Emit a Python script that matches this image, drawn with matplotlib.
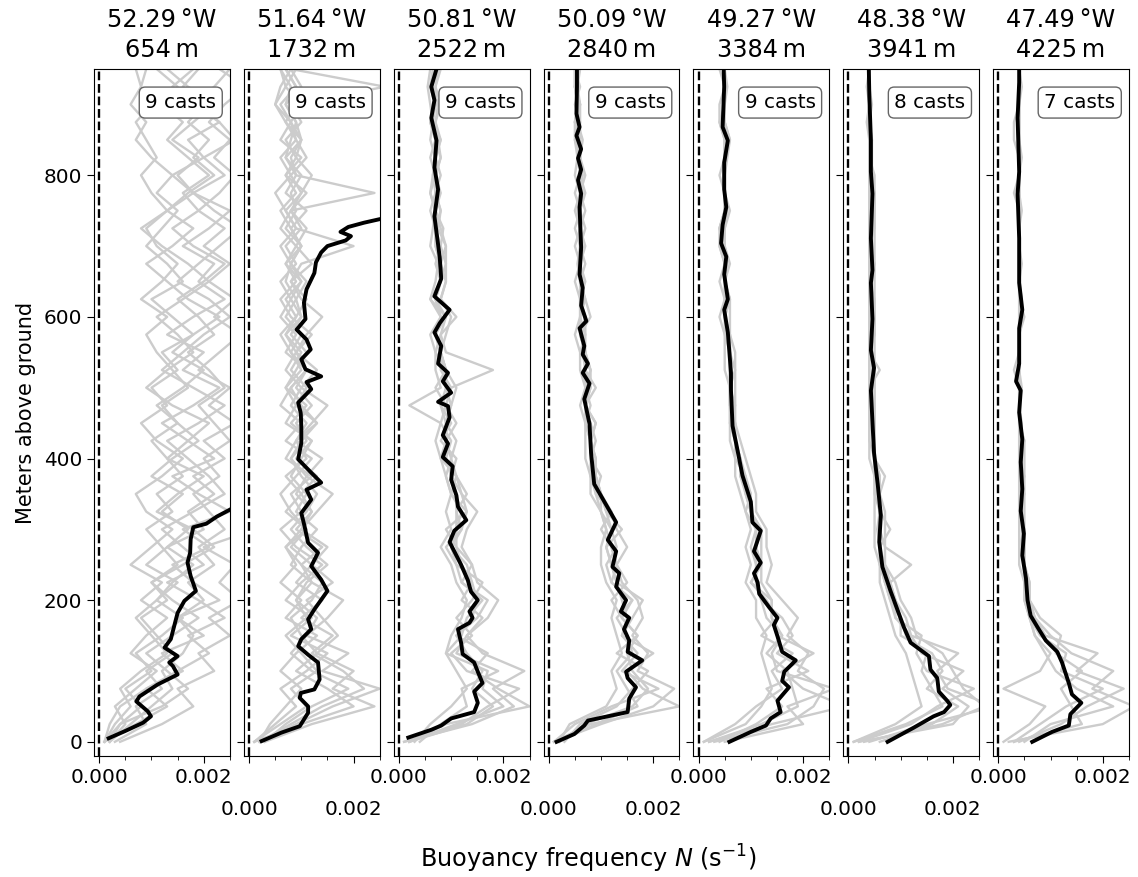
import numpy as np
import matplotlib.pyplot as plt
from matplotlib.ticker import MultipleLocator

plt.rcParams['font.size'] = 14.4

lons = [52.29, 51.64, 50.81, 50.09, 49.27, 48.38, 47.49]
depths = [654, 1732, 2522, 2840, 3384, 3941, 4225]
n_casts = [9, 9, 9, 9, 9, 8, 7]

# height above bottom of the individual cast samples (m)
z_cast = list(range(0, 951, 25))

# individual casts, N in units of 1e-4 s^-1
casts_1 = [
    [2, 6, 10, 14, 12, 16, 18, 15, 20, 17, 22, 19, 24,
     21, 18, 23, 20, 25, 22, 19, 24, 21, 17, 22, 19, 15,
     20, 24, 18, 14, 19, 16, 21, 17, 13, 16, 12, 15, 11],
    [3, 9, 7, 12, 9, 14, 11, 8, 13, 10, 15, 12, 9,
     14, 11, 16, 13, 10, 15, 12, 17, 14, 11, 9, 13, 8,
     12, 15, 11, 9, 13, 10, 8, 11, 9, 7, 10, 8, 9],
    [1, 4, 8, 5, 10, 7, 12, 16, 11, 14, 18, 13, 20,
     17, 22, 18, 24, 20, 26, 21, 25, 19, 23, 27, 22, 26,
     21, 25, 20, 24, 19, 23, 26, 22, 25, 21, 24, 28, 23],
    [2, 5, 3, 7, 11, 6, 9, 13, 8, 12, 6, 10, 14,
     9, 7, 12, 16, 11, 8, 13, 10, 15, 12, 18, 14, 10,
     16, 13, 9, 12, 15, 11, 14, 10, 7, 9, 6, 8, 7],
    [4, 12, 18, 15, 22, 19, 25, 21, 27, 23, 26, 20, 30,
     33, 35, 32, 38, 34, 40, 36, 33, 37, 35, 39, 34, 38,
     32, 36, 31, 35, 30, 34, 29, 33, 28, 32, 30, 27, 31],
    [1, 3, 6, 4, 8, 13, 10, 7, 11, 15, 9, 13, 17,
     12, 16, 10, 14, 19, 15, 11, 16, 20, 14, 18, 23, 17,
     13, 9, 14, 18, 13, 17, 22, 18, 21, 17, 20, 16, 19],
    [1, 7, 13, 9, 16, 12, 20, 15, 23, 18, 14, 21, 16,
     25, 19, 14, 22, 17, 12, 18, 23, 16, 20, 13, 18, 24,
     19, 22, 16, 21, 25, 18, 14, 20, 17, 23, 19, 14, 18],
    [2, 4, 12, 17, 13, 9, 14, 19, 14, 10, 16, 22, 18,
     11, 15, 20, 13, 17, 21, 14, 9, 13, 18, 15, 11, 16,
     21, 17, 12, 8, 13, 18, 15, 19, 14, 18, 22, 17, 13],
    [1, 2, 4, 9, 15, 21, 17, 24, 19, 13, 20, 16, 12,
     18, 24, 21, 17, 13, 19, 24, 18, 12, 16, 20, 25, 21,
     15, 19, 23, 27, 22, 18, 24, 20, 26, 23, 18, 22, 25],
]
casts_2 = [
    [2, 8, 14, 22, 18, 12, 16, 10, 14, 9, 12, 8, 11,
     7, 10, 13, 9, 12, 8, 11, 7, 10, 8, 6, 9, 7,
     10, 8, 6, 9, 7, 5, 8, 6, 9, 7, 5, 6, 8],
    [1, 5, 9, 6, 11, 15, 8, 12, 7, 10, 14, 9, 6,
     10, 8, 12, 7, 9, 11, 8, 10, 7, 9, 12, 8, 6,
     9, 7, 10, 8, 6, 9, 7, 10, 6, 8, 5, 7, 6],
    [3, 12, 24, 16, 20, 13, 17, 14, 11, 16, 12, 15, 10,
     13, 16, 11, 14, 9, 12, 15, 10, 13, 9, 11, 14, 10,
     8, 12, 9, 11, 8, 10, 12, 9, 7, 10, 8, 9, 7],
    [2, 4, 7, 10, 6, 9, 13, 7, 10, 6, 9, 7, 11,
     8, 6, 9, 12, 7, 10, 6, 8, 11, 7, 9, 6, 8,
     10, 7, 9, 6, 8, 11, 7, 9, 10, 7, 9, 26, 8],
    [1, 6, 11, 8, 13, 10, 7, 11, 9, 12, 8, 10, 13,
     9, 11, 8, 10, 12, 7, 9, 11, 8, 10, 7, 9, 11,
     8, 10, 20, 9, 7, 10, 8, 11, 9, 8, 10, 7, 9],
    [2, 9, 16, 25, 14, 19, 11, 15, 18, 12, 10, 14, 9,
     12, 10, 7, 11, 9, 13, 10, 8, 11, 9, 7, 10, 8,
     6, 9, 7, 10, 8, 24, 9, 7, 10, 8, 6, 9, 7],
    [1, 10, 20, 15, 9, 13, 10, 8, 12, 14, 10, 7, 10,
     12, 9, 11, 8, 10, 13, 9, 7, 9, 11, 8, 10, 9,
     7, 8, 10, 7, 9, 8, 10, 7, 8, 9, 7, 8, 6],
    [3, 7, 12, 19, 12, 8, 11, 13, 9, 11, 15, 11, 8,
     11, 13, 10, 8, 11, 9, 12, 9, 11, 8, 10, 7, 9,
     11, 8, 10, 8, 11, 7, 9, 8, 10, 9, 7, 10, 8],
]
casts_3 = [
    [1, 14, 22, 18, 24, 16, 13, 17, 19, 15, 14, 12, 13,
     15, 12, 11, 10, 11, 9, 10, 11, 9, 8, 9, 10, 8,
     9, 8, 9, 7.5, 8, 7, 8, 7, 8, 7, 7.5, 6.5, 7],
    [3, 6, 10, 13, 11, 9, 10, 12, 13, 11, 10, 8, 10,
     9, 10, 9, 8, 7, 8, 2, 8, 7, 7, 6, 8, 6,
     7, 7.5, 6, 6.5, 7, 6, 6.5, 7, 6, 6.5, 6, 5.5, 6],
    [2, 9, 25, 19, 14, 17, 11, 15, 17, 12, 14, 11, 9,
     13, 12, 10, 11, 8, 10, 8, 10, 18, 9, 8, 11, 8,
     9, 9, 8, 8.5, 7, 8, 7, 8, 7.5, 7, 8, 7, 7.5],
    [1, 12, 17, 23, 13, 10, 14, 11, 14, 16, 11, 9, 12,
     11, 13, 11, 9, 10, 8, 9, 7, 9, 8, 7, 8, 7,
     8, 9, 9, 8, 7, 6, 7, 8, 7, 6, 7, 7, 8],
    [4, 8, 13, 12, 19, 11, 13, 16, 12, 14, 13, 10, 11,
     12, 10, 9, 10, 9, 11, 9, 10, 8, 8, 7, 9, 7,
     8, 7, 8, 7, 6, 7, 7, 6, 7, 6, 7, 6, 7],
    [2, 11, 20, 16, 17, 9, 12, 13, 16, 12, 11, 10, 12,
     13, 10, 11, 8, 9, 9, 8, 9, 9, 7, 8, 9, 6,
     8, 8, 7, 7, 8, 7, 7, 7, 8, 6, 7, 6, 7],
    [2, 13, 18, 14, 16, 13, 11, 14, 15, 14, 12, 11, 11,
     11, 11, 10, 9, 9, 9, 10, 9, 9, 8, 7, 8, 7,
     8, 8, 7, 7, 7, 7, 6.5, 7, 7, 6.5, 7, 6, 6.5],
]
casts_4 = [
    [1, 10, 20, 24, 17, 19, 16, 18, 17, 14, 13, 15, 13,
     12, 10, 9, 9, 8, 9, 7, 8, 8, 7, 7, 7, 6,
     7, 6, 7, 6, 7, 6, 6.5, 6, 6.5, 5.5, 6, 5.5, 6],
    [2, 4, 11, 13, 12, 14, 13, 12, 13, 11, 10, 10, 11,
     10, 8, 8, 7, 7, 7, 6, 7, 6, 6, 5, 6, 6,
     5, 6, 5, 6, 5, 6, 5, 5.5, 5, 5, 5.5, 5, 5],
    [1, 8, 25, 18, 15, 20, 14, 16, 18, 13, 12, 11, 14,
     11, 10, 9, 8, 9, 8, 7, 9, 7, 7, 6, 8, 7,
     6, 7, 6, 7, 6, 6, 7, 6, 6, 6, 5, 6, 5],
    [3, 6, 13, 16, 19, 13, 17, 14, 12, 15, 13, 12, 10,
     12, 9, 8, 9, 8, 7, 8, 7, 8, 7, 6, 6, 7,
     6, 6, 6, 5, 6, 7, 6, 6, 5, 6, 6, 5, 6],
    [2, 9, 17, 15, 13, 16, 15, 13, 16, 12, 11, 13, 12,
     10, 9, 10, 8, 8, 9, 7, 7, 8, 6, 7, 6, 6,
     6.5, 6, 6.5, 6, 6, 5, 6, 6, 6, 5, 6, 5, 5],
    [1, 5, 12, 21, 14, 17, 14, 15, 14, 13, 12, 11, 12,
     11, 10, 8, 8, 8, 8, 7, 8, 7, 7, 6, 7, 6,
     6, 5.5, 6, 6, 5.5, 6, 6, 5.5, 6, 5, 5.5, 5, 5.5],
    [2, 7, 16, 19, 16, 15, 17, 14, 16, 12, 13, 12, 11,
     10, 10, 9, 8, 8, 7, 7, 7, 7, 6.5, 6.5, 6, 6.5,
     6, 6, 6, 6, 6, 6.5, 6, 6, 5.5, 5.5, 5.5, 5.5, 5.5],
]
casts_5 = [
    [3, 17, 22, 24, 19, 21, 17, 19, 16, 13, 14, 13, 13,
     11, 11, 10, 9, 8, 7, 7, 7, 7, 7, 6, 6, 6,
     5, 6, 5, 5, 6, 5, 5, 5, 6, 5, 5, 5, 5],
    [1, 9, 12, 14, 13, 12, 13, 11, 11, 9, 10, 9, 10,
     9, 8, 7, 7, 6, 6, 6, 6, 5, 5, 5, 4, 5,
     4, 5, 4, 4, 5, 5, 4, 5, 5, 4, 4, 5, 4],
    [2, 14, 28, 20, 16, 22, 15, 14, 14, 12, 12, 12, 12,
     10, 10, 9, 8, 7, 7, 6, 6, 7, 6, 6, 5, 6,
     5, 5.5, 5, 5, 5.5, 5, 5, 5.5, 6, 5, 5, 5.5, 5],
    [4, 11, 16, 13, 21, 15, 18, 16, 12, 11, 11, 10, 11,
     10, 9, 8, 8, 7, 6, 7, 6, 6, 6, 5, 5, 5,
     5, 5, 4, 5, 5, 5, 5, 5, 5, 5, 5, 5, 5],
    [1, 7, 11, 16, 14, 18, 12, 15, 13, 10, 12, 11, 12,
     10, 10, 8, 8, 7, 7, 6, 6, 6, 6, 6, 5, 6,
     5, 5, 5, 4, 5, 5, 5, 5, 5, 5, 5, 5, 5],
    [5, 20, 17, 26, 15, 14, 16, 13, 12, 11, 11, 11, 11,
     10, 9, 9, 7, 7, 6, 6, 6, 6, 6, 6, 5, 5,
     5, 5, 5, 4, 5, 5, 5, 5, 5, 4, 5, 5, 5],
    [2, 12, 19, 18, 17, 13, 16, 14, 14, 10, 12, 11, 11,
     9, 10, 8, 8, 7, 6.5, 6.5, 6, 6, 6, 5.5, 5, 5.5,
     5, 5, 4.5, 4.5, 5, 5, 5, 5, 5.5, 4.5, 5, 5, 5],
]
casts_6 = [
    [3, 18, 26, 22, 20, 18, 13, 12, 10, 9, 7, 7, 7,
     7, 6, 6, 5, 5, 5, 5, 5, 5, 5, 5, 5, 5,
     5, 5, 5, 5, 5, 5, 5, 4, 4.5, 4, 4.5, 4, 4],
    [1, 9, 14, 13, 12, 11, 9, 8, 7, 6, 6, 5, 5,
     5, 5, 5, 4, 4, 4, 4, 4, 4, 4, 4, 4, 4,
     4, 4, 4, 4, 4, 4, 4, 4, 4, 3.5, 4, 3.5, 4],
    [4, 15, 28, 19, 17, 21, 12, 11, 9, 8, 12, 7, 6,
     6, 6, 5, 5, 5, 5, 5, 4, 6, 4, 5, 5, 4,
     4, 5, 4, 4, 5, 5, 4, 4, 4, 4, 4, 4, 4],
    [2, 12, 17, 24, 15, 13, 14, 9, 8, 7, 6, 6, 6,
     6, 5, 5, 5, 4, 4, 4, 4, 4, 4, 4, 5, 4,
     4, 4, 4, 4, 4, 5, 4, 4, 4, 4, 4, 4, 4],
    [6, 16, 21, 15, 18, 16, 10, 10, 8, 7, 6, 6, 8,
     6, 6, 6, 5, 5, 5, 5, 5, 5, 4, 5, 5, 5,
     4, 5, 4, 5, 5, 5, 4, 4, 4, 4, 4, 4, 4],
    [1, 11, 18, 16, 14, 15, 11, 10, 9, 8, 7, 6, 6,
     6, 6, 7, 5, 5, 4, 4, 4, 5, 4, 4, 4, 4,
     4, 4, 4, 4, 4, 4, 4, 4, 4, 4, 4, 4, 4],
    [2, 20, 23, 18, 22, 14, 12, 9, 9, 7, 6.5, 6, 5.5,
     6, 5.5, 5, 5, 5, 4.5, 4.5, 4.5, 4.5, 4.5, 4.5, 4.5, 4.5,
     4.5, 4.5, 4.5, 4.5, 4.5, 4.5, 4.5, 4.5, 4.5, 4, 4, 4, 4],
]
casts_7 = [
    [2, 20, 26, 18, 22, 14, 10, 7, 6, 6, 5, 5, 5,
     5, 5, 5, 5, 5, 4, 4, 4, 4, 4, 4, 5, 4,
     4, 4.5, 4, 4, 4.5, 4, 4, 4.5, 4, 4, 4, 4.5, 4],
    [1, 6, 9, 1, 8, 10, 7, 6, 5, 5, 4, 4, 4,
     4, 4, 4, 4, 4, 4, 4, 4, 3, 4, 4, 4, 4,
     4, 4, 4, 4, 4, 3, 4, 4, 3, 3, 4, 4, 4],
    [4, 12, 17, 24, 15, 19, 9, 7, 6, 5, 5, 5, 5,
     4, 5, 4, 4, 5, 4, 4, 4, 4, 4, 4, 4, 4,
     4, 4, 4, 4, 4, 4, 4, 4, 4, 4, 4, 4, 4],
    [3, 16, 14, 12, 16, 11, 12, 8, 6, 6, 5, 5, 5,
     4, 4, 5, 4, 4, 4, 4, 4, 4, 4, 4, 4, 4,
     4, 4, 4, 4, 4, 4, 4, 4, 4, 4, 4, 4, 4],
    [5, 10, 22, 15, 11, 9, 7, 6, 5, 5, 5, 4, 5,
     4, 4, 4, 4, 4, 4, 4, 4, 4, 4, 4, 4, 4,
     4, 4, 4, 4, 4, 4, 4, 4, 4, 4, 4, 4, 4],
    [3, 8, 13, 20, 12, 13, 8, 6, 5.5, 5, 5, 4.5, 4.5,
     4.5, 4.5, 4.5, 4.5, 4.5, 4.5, 4, 4.5, 4, 4, 4, 4.5, 4.5,
     4, 4, 4, 4, 4, 4, 4, 4, 4, 4, 4, 4, 4],
]

# station-mean profiles: height (m) and N (1e-4 s^-1)
mean_z_1 = [5, 15, 27, 36, 43, 57, 64, 81, 95, 107, 112, 121, 133, 145, 182,
            199, 213, 234, 253, 267, 286, 303, 308, 318, 327, 340]
mean_n_1 = [1.8, 4.9, 8.4, 9.9, 9.3, 7.1, 7.7, 11.2, 15.0, 14.1, 13.4, 15.0,
            12.5, 13.7, 15.0, 16.3, 18.5, 17.5, 16.9, 17.4, 17.5, 18.0, 20.5,
            22.5, 24.8, 28.0]
mean_z_2 = [1, 13, 22, 41, 50, 62, 69, 74, 88, 112, 123, 135, 145, 159, 173,
            187, 213, 229, 248, 267, 281, 305, 323, 342, 356, 366, 380, 399,
            422, 445, 464, 479, 498, 508, 516, 526, 540, 554, 568, 582, 597,
            620, 639, 662, 677, 691, 700, 708, 714, 720, 727, 733, 738, 745]
mean_n_2 = [2.4, 6.2, 9.7, 11.3, 11.3, 9.7, 9.9, 12.5, 13.5, 13.2, 11.3, 9.4,
            10.0, 11.9, 11.3, 12.5, 15.0, 13.8, 11.9, 13.2, 11.3, 10.6, 10.0,
            11.9, 11.0, 13.8, 11.9, 9.4, 10.0, 10.0, 9.9, 9.4, 11.9, 11.0,
            13.8, 10.8, 10.0, 11.8, 11.0, 9.1, 10.8, 10.5, 11.0, 12.5, 12.8,
            13.8, 15.0, 18.5, 19.5, 17.5, 19.0, 22.0, 25.0, 30.0]
mean_z_3 = [6, 17, 23, 33, 42, 55, 71, 83, 99, 112, 124, 140, 159, 168, 175,
            184, 200, 212, 228, 250, 282, 298, 313, 332, 348, 370, 389, 402,
            421, 433, 458, 474, 480, 493, 509, 521, 534, 559, 578, 591, 610,
            629, 654, 685, 742, 780, 811, 849, 881, 906, 925, 950]
mean_n_3 = [1.8, 6.2, 8.1, 10.0, 14.4, 15.1, 14.4, 16.0, 15.1, 14.4, 12.2,
            11.9, 11.3, 13.5, 14.1, 13.5, 15.1, 13.8, 13.2, 11.9, 9.7, 10.6,
            12.9, 11.3, 11.0, 10.0, 10.3, 8.4, 9.4, 8.4, 9.7, 9.4, 7.5, 10.0,
            8.4, 9.4, 7.5, 8.1, 6.8, 7.8, 9.7, 6.8, 8.1, 7.8, 6.8, 7.5, 6.8,
            7.2, 6.2, 6.8, 6.2, 7.2]
mean_z_4 = [0, 11, 23, 30, 42, 61, 77, 90, 99, 115, 127, 143, 159, 175, 184,
            200, 219, 238, 247, 269, 285, 310, 364, 408, 449, 484, 506, 521,
            534, 547, 559, 584, 594, 616, 641, 660, 698, 755, 774, 793, 808,
            824, 837, 856, 868, 887, 925, 950]
mean_n_4 = [1.5, 4.9, 6.8, 7.5, 15.1, 15.4, 16.7, 15.1, 14.8, 17.9, 15.1,
            15.4, 14.4, 15.4, 13.8, 14.8, 12.9, 13.5, 12.2, 12.9, 11.3, 12.9,
            8.7, 8.1, 7.8, 6.8, 7.8, 6.5, 7.5, 6.5, 6.8, 5.9, 7.2, 6.2, 6.5,
            5.9, 6.2, 5.9, 6.2, 5.6, 6.2, 5.6, 6.2, 5.3, 5.9, 5.3, 5.4, 5.4]
mean_z_5 = [0, 14, 23, 33, 42, 58, 77, 86, 99, 115, 127, 149, 165, 175, 190,
            209, 225, 238, 253, 269, 298, 310, 339, 376, 421, 446, 496, 521,
            578, 610, 625, 660, 685, 704, 730, 755, 780, 818, 849, 868, 925,
            950]
mean_n_5 = [5.9, 10.0, 12.9, 13.8, 15.7, 15.1, 17.3, 16.0, 16.4, 18.6, 16.0,
            15.1, 14.4, 15.1, 13.5, 11.6, 11.3, 10.6, 11.9, 10.6, 11.9, 10.3,
            10.0, 8.4, 7.2, 6.5, 6.2, 6.2, 5.6, 4.9, 5.6, 4.9, 5.3, 4.3, 4.6,
            5.3, 4.9, 4.9, 5.6, 4.6, 4.9, 4.8]
mean_z_6 = [0, 20, 36, 42, 52, 58, 71, 90, 102, 121, 140, 162, 212, 247, 282,
            320, 364, 408, 452, 496, 528, 553, 597, 648, 666, 711, 774, 805,
            849, 912, 950]
mean_n_6 = [7.5, 12.5, 16.3, 18.3, 19.5, 18.9, 17.3, 17.0, 15.7, 15.4, 11.9,
            10.6, 8.1, 6.5, 5.9, 6.2, 5.6, 4.9, 4.6, 4.3, 4.9, 4.3, 4.6, 4.3,
            4.6, 4.3, 4.6, 4.3, 4.3, 4.0, 3.9]
mean_z_7 = [0, 14, 23, 39, 55, 67, 83, 112, 127, 143, 162, 178, 200, 231, 263,
            294, 326, 357, 395, 427, 465, 496, 509, 534, 584, 610, 648, 711,
            774, 805, 881, 931, 950]
mean_n_7 = [6.5, 10.3, 13.5, 13.8, 15.9, 14.1, 13.5, 12.2, 11.3, 9.1, 7.5,
            6.2, 5.6, 5.3, 4.6, 4.9, 4.3, 4.6, 4.3, 4.6, 4.0, 4.3, 3.4, 4.0,
            4.0, 4.6, 4.0, 4.0, 3.7, 4.0, 3.7, 4.0, 4.0]

casts = [casts_1, casts_2, casts_3, casts_4, casts_5, casts_6, casts_7]
means = [(mean_z_1, mean_n_1), (mean_z_2, mean_n_2), (mean_z_3, mean_n_3),
         (mean_z_4, mean_n_4), (mean_z_5, mean_n_5), (mean_z_6, mean_n_6),
         (mean_z_7, mean_n_7)]

fig, axes = plt.subplots(1, 7, sharey=True, figsize=(11.38, 8.77))
fig.subplots_adjust(left=0.0826, right=0.992, top=0.9213, bottom=0.138,
                    wspace=0.103)

for i, ax in enumerate(axes):
    for c in casts[i]:
        ax.plot(np.array(c) * 1e-4, z_cast, color='0.8', lw=1.7)
    mz, mn = means[i]
    ax.plot(np.array(mn) * 1e-4, mz, color='k', lw=2.8)
    ax.axvline(0, color='k', ls='--', lw=1.7)

    ax.set_xlim(-0.0001, 0.0025)
    ax.set_ylim(-20, 950)
    ax.xaxis.set_major_locator(MultipleLocator(0.002))
    ax.xaxis.set_minor_locator(MultipleLocator(0.0005))
    ax.set_yticks([0, 200, 400, 600, 800])
    ax.tick_params(which='major', length=5)
    ax.tick_params(which='minor', length=3)
    if i % 2 == 1:
        # stagger the labels so neighbouring panels don't collide
        ax.tick_params(axis='x', which='major', pad=27)

    ax.set_title(f'{lons[i]:.2f}\u2009°W\n{depths[i]}\u2009m', fontsize=17.3,
                 linespacing=1.3, pad=9)
    ax.text(0.90, 0.965, f'{n_casts[i]} casts', transform=ax.transAxes,
            ha='right', va='top',
            bbox=dict(boxstyle='round', fc='white', ec='0.4'))

axes[0].set_ylabel('Meters above ground', fontsize=15)
axes[0].yaxis.set_label_coords(-0.43, 0.5)
fig.text(0.517, 0.021, 'Buoyancy frequency $N$ (s$^{-1}$)',
         ha='center', va='center', fontsize=17.3)

fig.savefig('out.png', dpi=100)
